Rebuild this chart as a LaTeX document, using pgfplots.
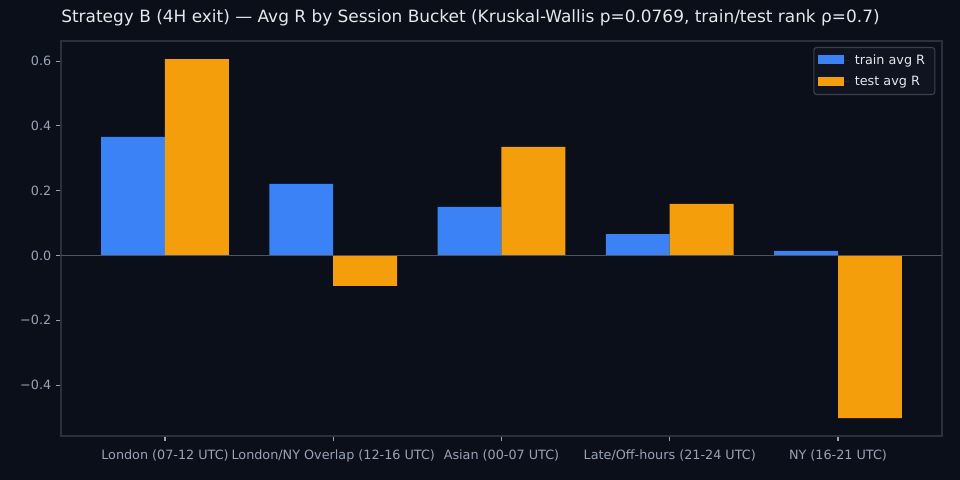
\documentclass[border=0pt]{standalone}
\usepackage{fontspec}
\setmainfont{DejaVu Sans}
\usepackage{pgfplots}
\pgfplotsset{compat=1.18}

\definecolor{bg}{HTML}{0B0F19}
\definecolor{spine}{HTML}{2A303C}
\definecolor{ticktxt}{HTML}{97A3B6}
\definecolor{titletxt}{HTML}{E5E7EB}
\definecolor{zeroline}{HTML}{4B5563}
\definecolor{trainc}{HTML}{3B82F6}
\definecolor{testc}{HTML}{F59E0B}
\definecolor{legbg}{HTML}{0F1420}
\definecolor{legedge}{HTML}{3A404C}

\begin{document}
\begin{tikzpicture}
  \useasboundingbox (0,0) rectangle (691.2pt,345.6pt);
  \fill[bg] (0,0) rectangle (691.2pt,345.6pt);
  \begin{axis}[
      at={(43.92pt,31.68pt)},
      anchor=south west,
      scale only axis,
      width=634.3pt,
      height=284.4pt,
      xmin=-0.618, xmax=4.618,
      ymin=-0.557, ymax=0.662,
      axis background/.style={fill=bg},
      axis line style={spine, line width=0.8pt},
      tick pos=left,
      xtick={0,1,2,3,4},
      xticklabels={London (07-12 UTC),London/NY Overlap (12-16 UTC),Asian (00-07 UTC),Late/Off-hours (21-24 UTC),NY (16-21 UTC)},
      ytick={-0.4,-0.2,0,0.2,0.4,0.6},
      yticklabels={−0.4,−0.2,0.0,0.2,0.4,0.6},
      tick align=outside,
      major tick length=3.5pt,
      tick style={ticktxt, line width=0.8pt},
      tick label style={font=\fontsize{9.2}{11}\selectfont, text=ticktxt},
      xticklabel style={yshift=-2.8pt},
      title={Strategy B (4H exit) — Avg R by Session Bucket (Kruskal-Wallis p=0.0769, train/test rank ρ=0.7)},
      title style={at={(rel axis cs:0,1)}, anchor=base west, yshift=7.2pt,
        inner sep=0pt, font=\fontsize{12.2}{14}\selectfont, text=titletxt},
      legend style={at={(rel axis cs:0.9925,0.985)}, anchor=north east,
        fill=legbg, draw=legedge, rounded corners=2pt, line width=0.8pt,
        text=titletxt, font=\fontsize{9.2}{11}\selectfont,
        row sep=3.2pt, inner xsep=3pt, inner ysep=3pt,
        nodes={inner xsep=4pt}},
      legend cell align=left,
      legend image code/.code={%
        \fill[#1, sharp corners] (0pt,-3pt) rectangle (18.7pt,3.5pt);
        \path (0pt,0pt) -- (22.5pt,0pt);},
    ]
    \addplot[ybar, bar width=0.38, bar shift=-0.19, draw=none, fill=trainc]
      coordinates {(0,0.366) (1,0.221) (2,0.150) (3,0.066) (4,0.014)};
    \addlegendentry{train avg R}
    \addplot[ybar, bar width=0.38, bar shift=0.19, draw=none, fill=testc]
      coordinates {(0,0.606) (1,-0.094) (2,0.335) (3,0.159) (4,-0.502)};
    \addlegendentry{test avg R}
    \draw[zeroline, line width=0.8pt] (axis cs:-0.618,0) -- (axis cs:4.618,0);
  \end{axis}
\end{tikzpicture}
\end{document}
